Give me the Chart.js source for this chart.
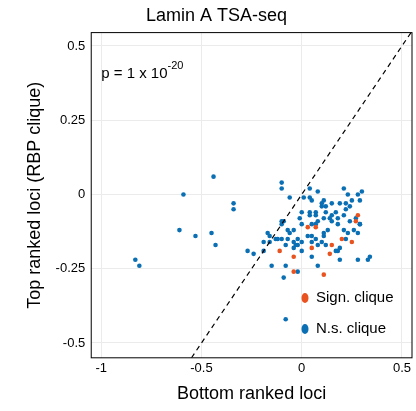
<!DOCTYPE html>
<html><head><meta charset="utf-8">
<script src="https://cdn.jsdelivr.net/npm/chart.js@4"></script>
<style>body{margin:0;background:#fff}#wrap{width:416px;height:411px}</style>
</head><body><div id="wrap"><canvas id="c"></canvas></div>
<script>
// --- DATA (bottom ranked x, top ranked y) ---
const nsX = [-0.44,-0.59,-0.34,-0.34,-0.61,-0.53,-0.45,-0.43,-0.10,-0.10,-0.06,0.04,0.08,0.01,0.04,0.05,0.21,0.23,0.30,0.28,0.29,0.25,0.22,0.19,0.15,0.12,0.10,0.11,0.10,0.24,0.22,0.00,0.04,0.07,0.12,0.15,0.17,0.21,0.27,0.04,0.07,0.11,0.14,0.18,-0.01,-0.10,-0.09,-0.10,0.08,0.15,0.18,0.24,0.29,0.29,0.05,0.07,0.00,-0.07,-0.04,-0.06,-0.17,-0.16,-0.13,-0.12,-0.10,-0.07,-0.04,-0.02,-0.19,-0.16,-0.08,-0.03,0.00,0.03,0.05,0.07,0.11,0.11,0.13,0.05,0.08,0.10,0.12,0.21,0.23,0.26,0.28,0.22,0.19,0.18,0.17,-0.04,-0.02,0.00,-0.19,-0.27,-0.24,0.05,0.19,0.28,0.33,-0.15,-0.08,-0.02,0.08,-0.09,-0.83,-0.81,-0.08,0.34];
const nsY = [0.06,0.00,-0.03,-0.05,-0.12,-0.14,-0.13,-0.17,0.04,0.02,-0.01,0.02,0.01,-0.01,-0.01,-0.02,0.02,0.00,0.01,0.00,-0.02,-0.02,-0.03,-0.03,-0.03,-0.04,-0.04,-0.02,-0.03,-0.04,-0.05,-0.06,-0.06,-0.06,-0.06,-0.07,-0.06,-0.07,-0.08,-0.07,-0.07,-0.08,-0.08,-0.08,-0.08,-0.09,-0.09,-0.10,-0.09,-0.09,-0.10,-0.09,-0.10,-0.10,-0.10,-0.10,-0.10,-0.12,-0.12,-0.13,-0.13,-0.14,-0.15,-0.15,-0.15,-0.15,-0.16,-0.15,-0.16,-0.16,-0.17,-0.17,-0.16,-0.14,-0.14,-0.15,-0.14,-0.13,-0.12,-0.16,-0.17,-0.16,-0.17,-0.12,-0.13,-0.12,-0.13,-0.15,-0.18,-0.19,-0.19,-0.18,-0.17,-0.19,-0.19,-0.19,-0.20,-0.21,-0.22,-0.22,-0.22,-0.24,-0.24,-0.26,-0.24,-0.28,-0.22,-0.24,-0.42,-0.21];
const sigX = [0.28,0.27,0.03,0.07,0.20,0.25,0.15,0.05,0.14,-0.11,-0.04,-0.04,0.11];
const sigY = [-0.07,-0.09,-0.11,-0.11,-0.15,-0.16,-0.17,-0.18,-0.20,-0.19,-0.21,-0.26,-0.27];
const xTicks = [-1, -0.5, 0, 0.5];
const yTicks = [-0.5, -0.25, 0, 0.25, 0.5];
const diagLine = [-0.6, 0.6];

const toPts = (xs, ys) => xs.map((x, i) => ({ x: x, y: ys[i] }));
const FONT = 'Liberation Sans, Arial, sans-serif';

// frame + text annotations + legend
const extras = {
    id: 'extras',
    afterDraw(chart) {
        const { ctx, chartArea: a } = chart;
        ctx.save();
        ctx.strokeStyle = '#000';
        ctx.lineWidth = 1;
        ctx.strokeRect(a.left, a.top, a.right - a.left, a.bottom - a.top);
        ctx.fillStyle = '#000';
        ctx.font = '15px ' + FONT;
        ctx.textBaseline = 'alphabetic';
        ctx.fillText('p = 1 x 10', a.left + 10, a.top + 45);
        const w = ctx.measureText('p = 1 x 10').width;
        ctx.font = '11px ' + FONT;
        ctx.fillText('-20', a.left + 10 + w, a.top + 36);
        const items = [['Sign. clique', '#e8531f', 298], ['N.s. clique', '#0b6fb4', 329]];
        items.forEach(([t, c, y]) => {
            ctx.fillStyle = c;
            ctx.beginPath();
            ctx.ellipse(305, y, 3.5, 5, 0, 0, Math.PI * 2);
            ctx.fill();
            ctx.fillStyle = '#000';
            ctx.font = '15px ' + FONT;
            ctx.textBaseline = 'middle';
            ctx.fillText(t, 316, y);
        });
        ctx.restore();
    }
};

new Chart(document.getElementById('c'), {
    type: 'scatter',
    data: {
        datasets: [
            { label: 'y = x', type: 'line', data: toPts(diagLine, diagLine), borderColor: '#000', borderWidth: 1.2, borderDash: [5, 4], pointRadius: 0, order: 0 },
            { label: 'N.s. clique', data: toPts(nsX, nsY), backgroundColor: '#0b6fb4', borderWidth: 0, pointRadius: 2.3, order: 2 },
            { label: 'Sign. clique', data: toPts(sigX, sigY), backgroundColor: '#e8531f', borderWidth: 0, pointRadius: 2.3, order: 1 }
        ]
    },
    options: {
        responsive: true,
        maintainAspectRatio: false,
        animation: false,
        layout: { padding: { top: 0, right: 3, bottom: 2, left: 20 } },
        scales: {
            x: {
                type: 'linear', min: -1.05, max: 0.55,
                afterBuildTicks: s => { s.ticks = xTicks.map(v => ({ value: v })); },
                ticks: { color: '#000', font: { size: 13, family: FONT }, callback: v => String(v) },
                grid: { color: '#ebebeb', drawTicks: false },
                border: { display: false },
                title: { display: true, text: 'Bottom ranked loci', color: '#000', font: { size: 18, family: FONT }, padding: { top: 4 } }
            },
            y: {
                min: -0.55, max: 0.545,
                afterBuildTicks: s => { s.ticks = yTicks.map(v => ({ value: v })); },
                ticks: { color: '#000', font: { size: 13, family: FONT }, callback: v => String(v), padding: 6 },
                grid: { color: '#ebebeb', drawTicks: false },
                border: { display: false },
                title: { display: true, text: 'Top ranked loci (RBP clique)', color: '#000', font: { size: 18, family: FONT } }
            }
        },
        plugins: {
            legend: { display: false },
            tooltip: { enabled: false },
            title: { display: true, text: 'Lamin A TSA-seq', color: '#000', font: { size: 18, family: FONT, weight: 'normal' }, padding: { top: 5, bottom: 6 } }
        }
    },
    plugins: [extras]
});
</script></body></html>
